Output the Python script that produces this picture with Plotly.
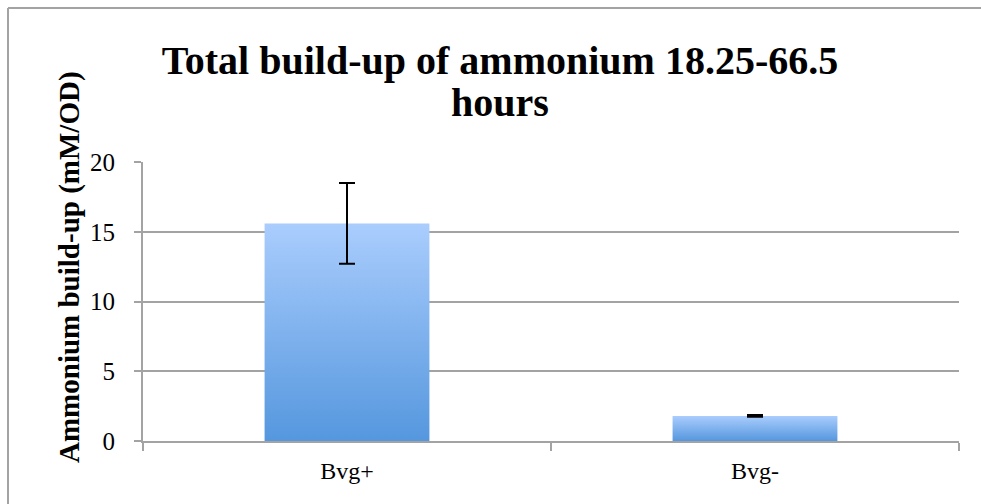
import plotly.graph_objects as go

categories = ["Bvg+", "Bvg-"]
values = [15.6, 1.8]
errors = [2.9, 0.06]
y_ticks = [0, 5, 10, 15, 20]

title_line1 = "Total build-up of ammonium 18.25-66.5"
title_line2 = "hours"
y_title = "Ammonium build-up (mM/OD)"

FONT = "Liberation Serif"
GREY = "#A3A3A3"
BAR_W = 0.404
x_pos = list(range(len(categories)))

W, H = 981, 504
ML, MT, PW, PH = 143, 162, 816, 279


def px_x(x):  # page pixel -> paper x
    return (x - ML) / PW


def px_y(y):  # page pixel -> paper y
    return 1 - (y - MT) / PH


fig = go.Figure()

# gradient-filled bars drawn as polygons from the data values
for xc, v in zip(x_pos, values):
    xs = [xc - BAR_W / 2, xc + BAR_W / 2, xc + BAR_W / 2, xc - BAR_W / 2, xc - BAR_W / 2]
    ys = [0, 0, v, v, 0]
    fig.add_trace(go.Scatter(
        x=xs, y=ys, mode="lines", fill="toself",
        line=dict(width=0, color="rgba(0,0,0,0)"),
        fillgradient=dict(type="vertical",
                          colorscale=[[0, "#5597DE"], [1, "#AACDFD"]]),
        hoverinfo="skip", showlegend=False,
    ))

# error bars
fig.add_trace(go.Scatter(
    x=x_pos, y=values, mode="markers",
    marker=dict(size=1, color="rgba(0,0,0,0)"),
    error_y=dict(type="data", array=errors, visible=True,
                 color="black", thickness=2, width=8),
    showlegend=False,
))

fig.update_layout(
    width=W, height=H,
    margin=dict(l=ML, r=W - ML - PW, t=MT, b=H - MT - PH),
    paper_bgcolor="white", plot_bgcolor="white",
    title=dict(text=title_line1, x=px_x(500), xanchor="center", xref="paper",
               y=1 - 60 / H, yanchor="middle", yref="container",
               font=dict(family=FONT, size=40, color="black", weight="bold")),
    showlegend=False,
)

fig.add_annotation(text=title_line2, xref="paper", yref="paper",
                   x=px_x(500), y=px_y(103),
                   xanchor="center", yanchor="middle", showarrow=False,
                   font=dict(family=FONT, size=40, color="black", weight="bold"))

# y-axis title (sits higher than plot centre in the original)
fig.add_annotation(text=y_title, xref="paper", yref="paper",
                   x=px_x(69), y=px_y(267),
                   xanchor="center", yanchor="middle", textangle=-90,
                   showarrow=False,
                   font=dict(family=FONT, size=29, color="black", weight="bold"))

fig.update_xaxes(
    range=[-0.5, 1.5], tickvals=x_pos, ticktext=categories,
    ticks="", showgrid=False, zeroline=False,
    showline=True, linecolor=GREY, linewidth=2,
    tickfont=dict(family=FONT, size=24, color="black"),
    ticklabelstandoff=7,
    minor=dict(tick0=0.5, dtick=1, ticks="outside", ticklen=8,
               tickcolor=GREY, tickwidth=2, showgrid=False),
    fixedrange=True,
)
fig.update_yaxes(
    range=[0, 20], tickvals=y_ticks,
    ticks="outside", ticklen=7, tickcolor=GREY, tickwidth=2,
    showgrid=True, gridcolor=GREY, gridwidth=1.5,
    zeroline=False, showline=True, linecolor=GREY, linewidth=2,
    tickfont=dict(family=FONT, size=25, color="black"),
    ticklabelstandoff=14,
    fixedrange=True,
)

# outer chart frame: only the top and left edges are visible
fig.add_shape(type="line", xref="paper", yref="paper",
              x0=px_x(8), x1=px_x(W + 5), y0=px_y(8), y1=px_y(8),
              line=dict(color=GREY, width=2), layer="below")
fig.add_shape(type="line", xref="paper", yref="paper",
              x0=px_x(8), x1=px_x(8), y0=px_y(H + 5), y1=px_y(8),
              line=dict(color=GREY, width=2), layer="below")

fig.write_html(
    "out.html",
    config={"displayModeBar": False},
    post_script="document.body.style.margin='0';"
                "document.body.style.overflow='hidden';"
                "document.documentElement.style.overflow='hidden';",
)
